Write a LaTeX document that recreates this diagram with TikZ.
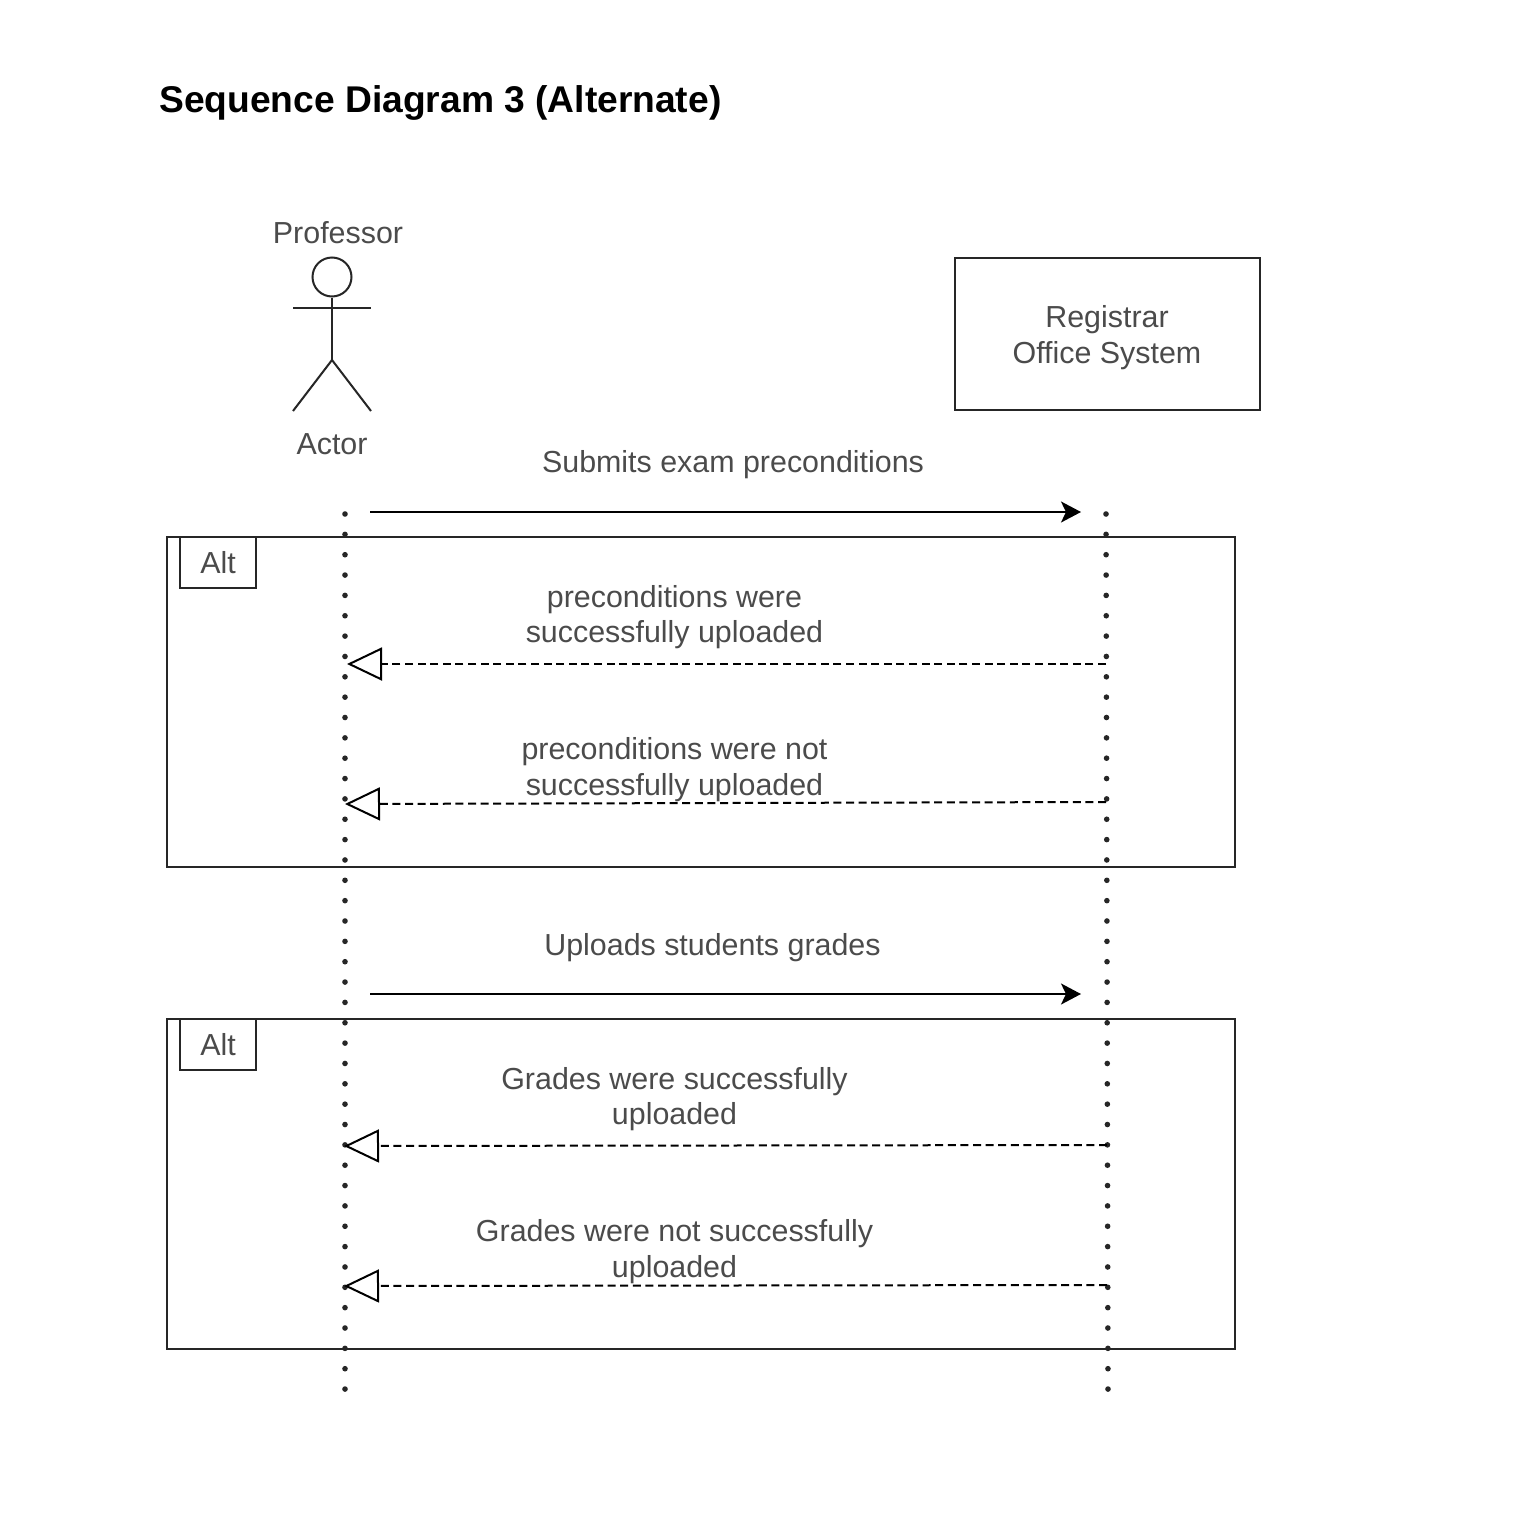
\documentclass[tikz,border=0pt]{standalone}
\usepackage{fontspec}
\setmainfont{Liberation Sans}
\usepackage{tikz}
\usetikzlibrary{
  arrows.meta,calc,positioning
}
\definecolor{LabelGray}{RGB}{75,75,75}
\tikzset{
  lbl/.style={text=LabelGray,font=\fontsize{30.4}{35.5}\selectfont,align=center,inner sep=0pt},
  frm/.style={draw=black!85,line width=2pt},
  life/.style={line width=5.6pt,line cap=round,dash pattern=on 0pt off 20.35pt,black!85},
  call/.style={line width=2pt,-{Stealth[length=20pt,width=21pt,inset=5pt]}},
  reply/.style={line width=2pt,dash pattern=on 8pt off 4.6pt,
    -{Triangle[open,length=35pt,width=33pt,line width=2pt]}}
}
\begin{document}
\begin{tikzpicture}[x=1pt,y=-1pt]
  \useasboundingbox (0,0) rectangle (1528,1539);
  \fill[white] (0,0) rectangle (1528,1539);
  \node[anchor=west,inner sep=0pt,font=\fontsize{37.2}{40}\selectfont\bfseries] (title) at (159,103) {Sequence Diagram 3 (Alternate)};
  % actor
  \node[lbl] (prof) at (338,233) {Professor};
  \node[circle,draw=black!85,line width=2pt,minimum size=39pt,inner sep=0pt] (head) at (332,277) {};
  \coordinate (hip) at (332,360);
  \coordinate (armL) at (293,308);
  \coordinate (armR) at (371,308);
  \coordinate (footL) at (293,411);
  \coordinate (footR) at (371,411);
  \draw[frm] (head) -- (hip);
  \draw[frm] (armL) -- (armR);
  \draw[frm] (footL) -- (hip) -- (footR);
  \node[lbl] (actor) at (332,444) {Actor};
  % system box
  \node[frm,minimum width=305pt,minimum height=152pt,inner sep=0pt] (sys) at (1107,333.5) {};
  \node[lbl] (syslbl) at (1107,337.5) {Registrar\\Office System};
  % lifelines
  \coordinate (pTop) at (345,514);
  \coordinate (pEnd) at (345,1390);
  \coordinate (sTop) at (1106,514);
  \coordinate (sEnd) at (1108,1390);
  \draw[life] (pTop) -- (pEnd);
  \draw[life] (sTop) -- (sEnd);
  % frames
  \foreach \n/\y in {a/536,b/1018}{
    \node[frm,anchor=north west,minimum width=1068pt,minimum height=330pt,inner sep=0pt] (fr\n) at (166,\y) {};
    \node[frm,lbl,anchor=north west,minimum width=76pt,minimum height=51pt,inner sep=0pt] (tag\n) at (179,\y) {Alt};
  }
  % messages
  \coordinate (m1a) at (370,512);
  \coordinate (m1b) at (1081,512);
  \draw[call] (m1a) -- (m1b);
  \node[lbl] (m1) at (733,465) {Submits exam preconditions};
  \coordinate (m2a) at (1106,664);
  \coordinate (m2b) at (347,664);
  \draw[reply] (m2a) -- (m2b);
  \node[lbl] (m2) at (674.5,617) {preconditions were\\successfully uploaded};
  \coordinate (m3a) at (1106,802);
  \coordinate (m3b) at (345,804);
  \draw[reply] (m3a) -- (m3b);
  \node[lbl] (m3) at (674.5,769.5) {preconditions were not\\successfully uploaded};
  \coordinate (m4a) at (370,994);
  \coordinate (m4b) at (1081,994);
  \draw[call] (m4a) -- (m4b);
  \node[lbl] (m4) at (712.5,948) {Uploads students grades};
  \coordinate (m5a) at (1107,1145);
  \coordinate (m5b) at (344,1146);
  \draw[reply] (m5a) -- (m5b);
  \node[lbl] (m5) at (674.5,1099) {Grades were successfully\\uploaded};
  \coordinate (m6a) at (1107,1285);
  \coordinate (m6b) at (344,1286);
  \draw[reply] (m6a) -- (m6b);
  \node[lbl] (m6) at (674.5,1251.5) {Grades were not successfully\\uploaded};
\end{tikzpicture}
\end{document}
